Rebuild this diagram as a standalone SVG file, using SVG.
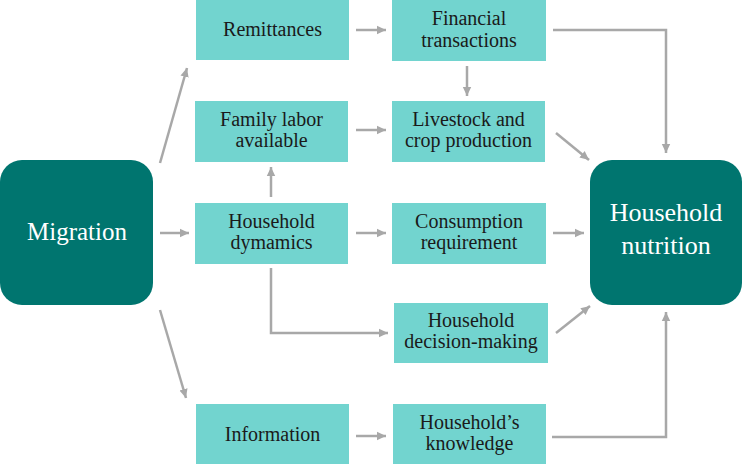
<svg xmlns="http://www.w3.org/2000/svg" width="744" height="465" viewBox="0 0 744 465">
<style>
.box{fill:#72d4cf}
.big{fill:#00756f}
.t{font-size:20px;fill:#1a1a1a;text-anchor:middle}
.w{fill:#ffffff;text-anchor:middle}
.c{fill:none;stroke:#a8a8a8;stroke-width:2.5;marker-end:url(#ah)}
</style>
<defs>
<marker id="ah" markerUnits="userSpaceOnUse" markerWidth="10" markerHeight="10" refX="9" refY="5" orient="auto">
<path d="M0,0.8 L9,5 L0,9.2 Z" fill="#a8a8a8"/>
</marker>
</defs>
<rect width="744" height="465" fill="#ffffff"/>
<g id="connectors">
<path class="c" d="M356,30 H386"/>
<path class="c" d="M356,130 H386"/>
<path class="c" d="M356,233 H386"/>
<path class="c" d="M160,233 H189"/>
<path class="c" d="M356,436 H386"/>
<path class="c" d="M467,66 V96"/>
<path class="c" d="M271,197 V167"/>
<path class="c" d="M271,268 V333 H388"/>
<path class="c" d="M160,163 L187,68"/>
<path class="c" d="M160,310 L186,398"/>
<path class="c" d="M553,30 H666 V153"/>
<path class="c" d="M556,133 L589,160"/>
<path class="c" d="M553,233 H584"/>
<path class="c" d="M556,333 L590,306"/>
<path class="c" d="M552,437 H666 V312"/>
</g>
<g font-family="Liberation Serif, serif">
<g id="migration">
<rect class="big" x="0" y="160" width="153" height="145" rx="22"/>
<text class="w" x="77" y="240" font-size="25">Migration</text>
</g>
<g id="nutrition">
<rect class="big" x="590" y="160" width="152" height="145" rx="22"/>
<text class="w" x="666" y="221" font-size="26">Household</text>
<text class="w" x="666" y="254" font-size="26">nutrition</text>
</g>
<g id="remittances">
<rect class="box" x="196" y="0" width="153" height="60"/>
<text class="t" x="272.5" y="36">Remittances</text>
</g>
<g id="family-labor">
<rect class="box" x="195" y="101" width="153" height="61"/>
<text class="t" x="271.5" y="126">Family labor</text>
<text class="t" x="271.5" y="147">available</text>
</g>
<g id="household-dynamics">
<rect class="box" x="195" y="203" width="153" height="61"/>
<text class="t" x="271.5" y="228">Household</text>
<text class="t" x="271.5" y="249">dymamics</text>
</g>
<g id="information">
<rect class="box" x="196" y="404" width="153" height="60"/>
<text class="t" x="272.5" y="441">Information</text>
</g>
<g id="financial">
<rect class="box" x="392" y="0" width="154" height="61"/>
<text class="t" x="469" y="25">Financial</text>
<text class="t" x="469" y="47">transactions</text>
</g>
<g id="livestock">
<rect class="box" x="392" y="101" width="153" height="61"/>
<text class="t" x="468.5" y="126">Livestock and</text>
<text class="t" x="468.5" y="147">crop production</text>
</g>
<g id="consumption">
<rect class="box" x="392" y="203" width="154" height="61"/>
<text class="t" x="469" y="228">Consumption</text>
<text class="t" x="469" y="249">requirement</text>
</g>
<g id="decision">
<rect class="box" x="394" y="303" width="154" height="60"/>
<text class="t" x="471" y="327">Household</text>
<text class="t" x="471" y="348">decision-making</text>
</g>
<g id="knowledge">
<rect class="box" x="393" y="404" width="153" height="60"/>
<text class="t" x="469.5" y="429">Household’s</text>
<text class="t" x="469.5" y="450">knowledge</text>
</g>
</g>
</svg>
